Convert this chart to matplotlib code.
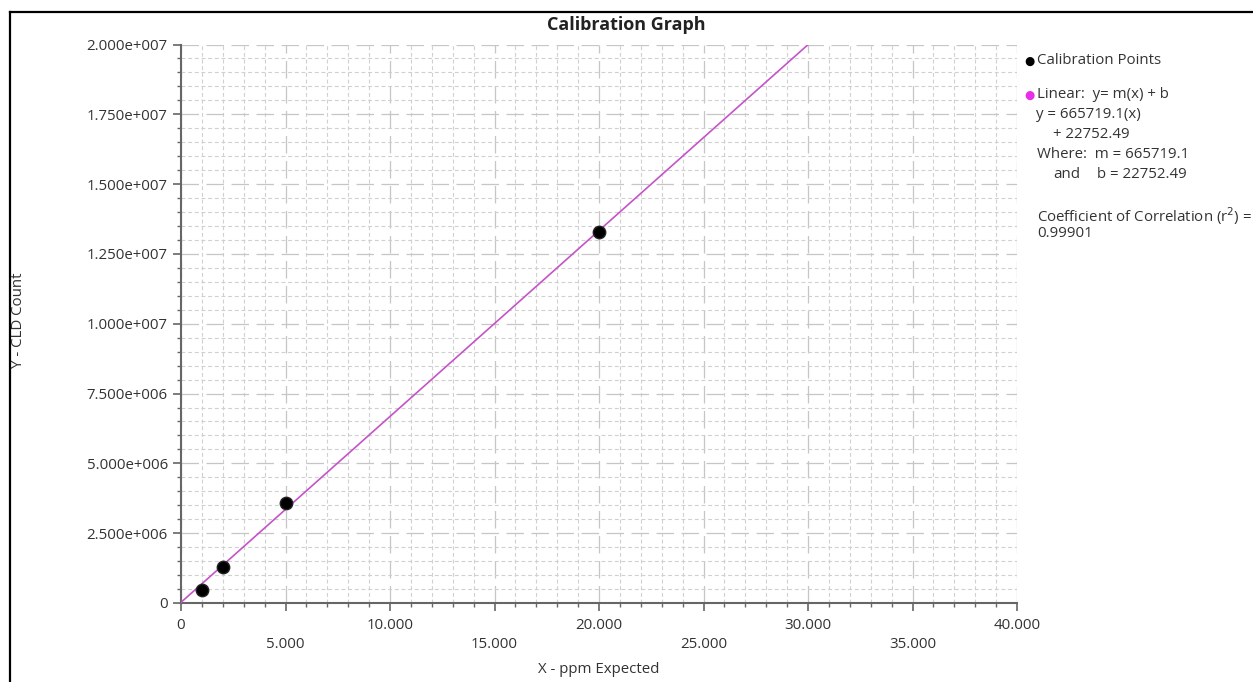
import matplotlib
matplotlib.use("Agg")
import matplotlib.pyplot as plt
from matplotlib.lines import Line2D
from matplotlib.ticker import FixedLocator, FuncFormatter, MultipleLocator
import numpy as np

# ── Data ────────────────────────────────────────────────────────────────────
ppm_expected = [1, 2, 5, 20]
cld_count = [0.466e6, 1.30e6, 3.59e6, 13.28e6]

slope = 665719.1
intercept = 22752.49
r_squared = 0.99901

x_ticks = [0, 5, 10, 15, 20, 25, 30, 35, 40]
y_ticks = [0, 2.5e6, 5.0e6, 7.5e6, 10.0e6, 12.5e6, 15.0e6, 17.5e6, 20.0e6]

# ── Style ───────────────────────────────────────────────────────────────────
W, H = 1253, 682
plt.rcParams["font.family"] = ["Open Sans", "DejaVu Sans"]
plt.rcParams["font.size"] = 10.8
TEXT = "#333333"
SPINE = "#666666"
LINE_COLOR = "#c454c8"


def fx(px):
    return px / W


def fy(py):
    return 1 - py / H


def y_fmt(v, _pos):
    if v == 0:
        return "0"
    exp = int(np.floor(np.log10(abs(v))))
    return f"{v / 10 ** exp:.3f}e+{exp:03d}"


def x_fmt(v, _pos):
    return "0" if v == 0 else f"{v:.3f}"


fig = plt.figure(figsize=(W / 100, H / 100), dpi=100)
ax = fig.add_axes([fx(181), fy(603), fx(1017) - fx(181), fy(44.5) - fy(603)])

ax.set_xlim(0, 40)
ax.set_ylim(0, 2.0e7)

# grid: long dashes on majors, short dashes on minors
ax.xaxis.set_major_locator(FixedLocator(x_ticks))
ax.yaxis.set_major_locator(FixedLocator(y_ticks))
ax.xaxis.set_minor_locator(MultipleLocator(1))
ax.yaxis.set_minor_locator(MultipleLocator(0.5e6))
ax.grid(which="minor", color="#d0d0d0", linestyle=(0, (3.5, 2.5)), linewidth=0.8)
ax.grid(which="major", color="#c6c6c6", linestyle=(0, (14, 6)), linewidth=0.9)
ax.set_axisbelow(True)

# fitted line and calibration points
x_line = np.array(ax.get_xlim())
ax.plot(x_line, slope * x_line + intercept, color=LINE_COLOR, linewidth=1.2, zorder=3)
ax.scatter(ppm_expected, cld_count, s=80, color="black", edgecolors="#222222", zorder=4)

# axes and ticks
for side in ("top", "right"):
    ax.spines[side].set_visible(False)
for side in ("left", "bottom"):
    ax.spines[side].set_color(SPINE)
    ax.spines[side].set_linewidth(1.5)

ax.xaxis.set_major_formatter(FuncFormatter(x_fmt))
ax.yaxis.set_major_formatter(FuncFormatter(y_fmt))
ax.tick_params(which="major", length=6, width=1.2, color=SPINE, labelcolor=TEXT)
ax.tick_params(which="minor", length=3, width=1.0, color=SPINE)
ax.tick_params(axis="y", which="major", pad=3.5)
ax.tick_params(axis="x", which="major", pad=4.5)

# staggered x labels
for i, tick in enumerate(ax.xaxis.get_major_ticks()):
    if i % 2:
        tick.set_pad(18.5)

ax.set_xlabel("X - ppm Expected", color=TEXT)
ax.xaxis.set_label_coords(0.5, (603 - 662) / (603 - 44.5))
fig.text(fx(19), fy(320), "Y - CLD Count", rotation=90, ha="center", va="center", color=TEXT)

fig.text(0.5, fy(25), "Calibration Graph", ha="center", va="center",
         fontsize=13, fontweight="bold", color="#222222")

# legend / fit text on the right
fig.text(fx(1029), fy(61), "●", ha="center", va="center", fontsize=8.5, color="black",
         family=["DejaVu Sans"])
fig.text(fx(1037), fy(60), "Calibration Points", va="center", color=TEXT)
fig.text(fx(1029), fy(95), "●", ha="center", va="center", fontsize=8.5, color="#e82ee8",
         family=["DejaVu Sans"])
fig.text(fx(1037), fy(94), "Linear:  y= m(x) + b", va="center", color=TEXT)
fig.text(fx(1036), fy(114), f"y = {slope:.1f}(x)", va="center", color=TEXT)
fig.text(fx(1053), fy(134), f"+ {intercept:.2f}", va="center", color=TEXT)
fig.text(fx(1037), fy(155), f"Where:  m = {slope:.1f}", va="center", color=TEXT)
fig.text(fx(1053), fy(175), "and", va="center", color=TEXT)
fig.text(fx(1097), fy(175), f"b = {intercept:.2f}", va="center", color=TEXT)
fig.text(fx(1037), fy(216), "Coefficient of Correlation (r$^2$) =", va="center", color=TEXT)
fig.text(fx(1037), fy(234), f"{r_squared:.5f}", va="center", color=TEXT)

# black frame of the screenshot
fig.add_artist(Line2D([fx(10), 1.0], [fy(12), fy(12)], color="black", linewidth=1.6))
fig.add_artist(Line2D([fx(10), fx(10)], [fy(12), 0.0], color="black", linewidth=1.6))

fig.savefig("out.png", dpi=100)
